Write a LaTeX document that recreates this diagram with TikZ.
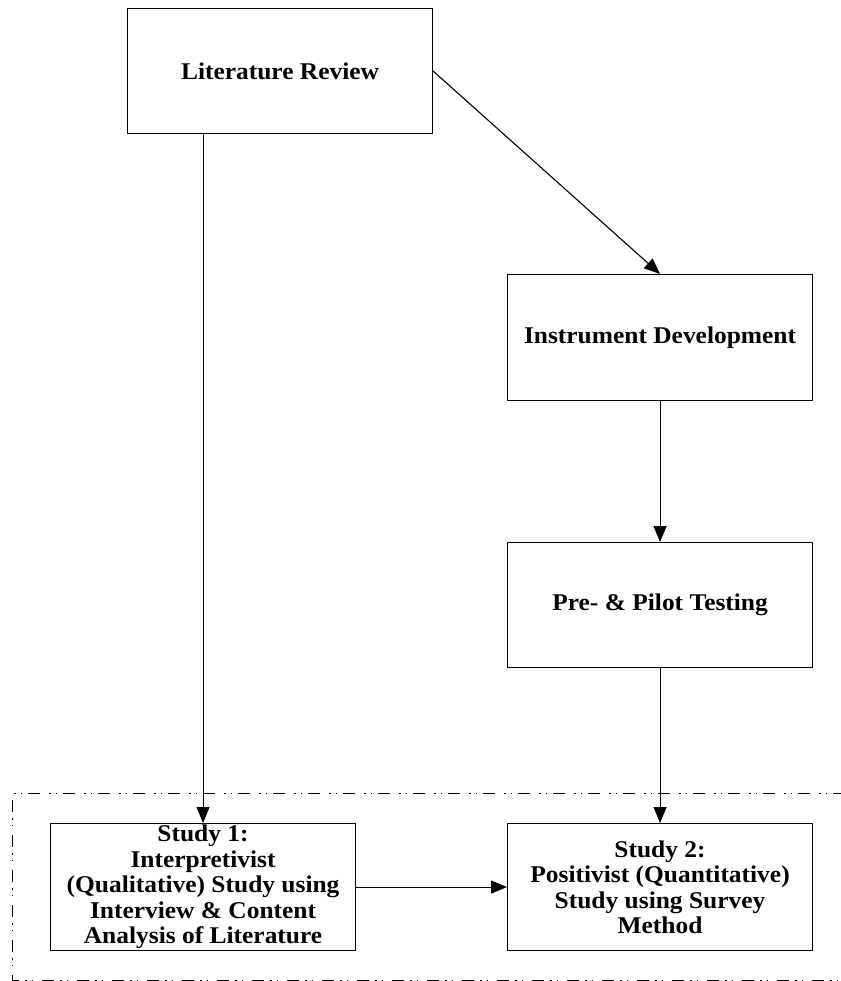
\documentclass[tikz,border=0pt]{standalone}
\usepackage{fontspec}
\setmainfont{Liberation Serif}[FakeStretch=1.06]
\usetikzlibrary{arrows.meta}

\tikzset{
  stage/.style={draw, line width=1.1pt, minimum width=305pt, anchor=north west,
    align=center, inner sep=0pt, font=\bfseries\fontsize{24}{25.5}\selectfont},
  flow/.style={line width=1.1pt, -{Triangle[length=16pt,width=13pt]}},
  frame/.style={line width=0.9pt, dash pattern=on 12pt off 6pt on 1.5pt off 5pt on 1.5pt off 9pt}
}

\begin{document}
\begin{tikzpicture}[x=1pt,y=-1pt]
  \useasboundingbox (0,0) rectangle (840,981);

  % study group frame (open at the right edge)
  \draw[frame] (845,793) -- (12,793) -- (12,980) -- (845,980);

  \node[stage, minimum height=125pt] (lit) at (127,8) {Literature Review};
  \node[stage, minimum height=126pt] (inst) at (507,274) {Instrument Development};
  \node[stage, minimum height=125pt] (pilot) at (507,542) {Pre- \& Pilot Testing};
  \node[stage, minimum height=127pt] (s1) at (50,823)
    {Study 1:\\Interpretivist\\(Qualitative) Study using\\Interview \& Content\\Analysis of Literature};
  \node[stage, minimum height=127pt] (s2) at (507,823)
    {Study 2:\\Positivist (Quantitative)\\Study using Survey\\Method};

  \draw[flow] (lit.south -| s1.north) -- (s1.north);
  \draw[flow] (lit.east) -- (inst.north);
  \draw[flow] (inst.south) -- (pilot.north);
  \draw[flow] (pilot.south) -- (s2.north);
  \draw[flow] (s1.east) -- (s2.west);
\end{tikzpicture}
\end{document}
